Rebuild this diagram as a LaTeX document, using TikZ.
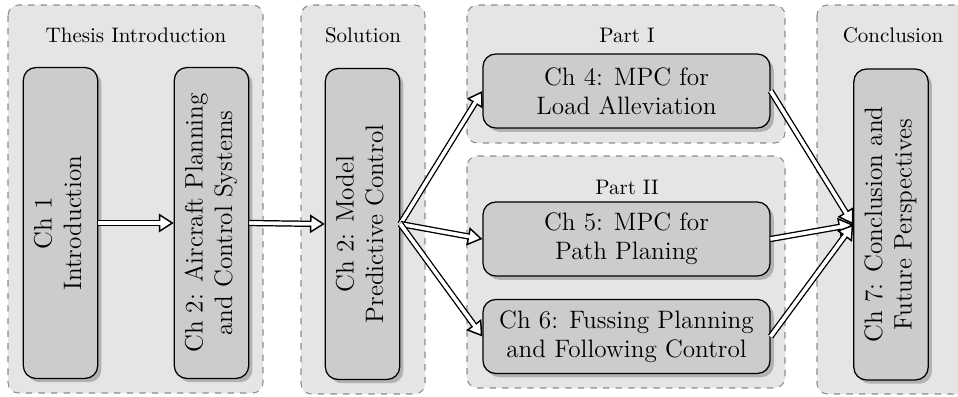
\documentclass[tikz,border=0pt]{standalone}
\usepackage{graphicx}
\usetikzlibrary{arrows.meta,shadows}

\tikzset{
  group/.style={draw=black!45, dashed, fill=black!10, rounded corners=5pt, line width=0.5pt},
  grouptitle/.style={font=\normalsize, inner sep=0pt},
  chap/.style={draw=black, fill=black!20, rounded corners=6pt, line width=0.6pt,
    align=center, font=\large, inner sep=2pt,
    drop shadow={shadow xshift=1.8pt, shadow yshift=-1.8pt, fill=black!30, opacity=1}},
  hchap/.style={chap, minimum width=136.6pt, minimum height=35.2pt},
  vchap/.style={chap, minimum width=35.4pt, minimum height=148pt},
  % hollow arrow: outlined head, double-line shaft, white inside
  fathead/.style={line width=0.7pt, draw=black,
    -{Triangle[fill=white, length=7pt, width=8.8pt]}},
  fatshaft/.style={double=white, double distance=1.6pt, line width=0.7pt,
    shorten >=6.8pt},
  fatcore/.style={draw=white, line width=1.6pt, shorten >=5.4pt},
}
\newcommand{\uptext}[1]{\rotatebox{90}{\begin{tabular}{@{}c@{}}#1\end{tabular}}}
\newcommand{\fatarrow}[2]{%
  \draw[fathead] (#1) -- (#2);
  \draw[fatshaft] (#1) -- (#2);
  \draw[fatcore] (#1) -- (#2);}

\begin{document}
\begin{tikzpicture}[x=0.476pt, y=-0.476pt]
  \useasboundingbox (0,0) rectangle (958,396);
  \clip (0,0) rectangle (958,396);

  % section panels
  \draw[group] (8,5) rectangle (263,393);
  \draw[group] (301,5) rectangle (425,394);
  \draw[group] (467,5) rectangle (785,143);
  \draw[group] (467,156) rectangle (785,388);
  \draw[group] (817,5) rectangle (969,394);

  % panel titles
  \node[grouptitle] (tIntro) at (136,35) {Thesis Introduction};
  \node[grouptitle] (tSol)   at (363,35) {Solution};
  \node[grouptitle] (tP1)    at (627,35) {Part I};
  \node[grouptitle] (tP2)    at (627,187) {Part II};
  \node[grouptitle] (tConc)  at (893,35) {Conclusion};

  % chapters
  \node[vchap] (ch1) at (60.5,223) {\uptext{Ch 1\\Introduction}};
  \node[vchap] (ch2) at (211.5,223) {\uptext{Ch 2: Aircraft Planning\\and Control Systems}};
  \node[vchap] (mpc) at (362.5,224) {\uptext{Ch 2: Model\\Predictive Control}};
  \node[hchap] (ch4) at (626.5,91) {Ch 4: MPC for\\Load Alleviation};
  \node[hchap] (ch5) at (626.5,239) {Ch 5: MPC for\\Path Planing};
  \node[hchap] (ch6) at (626.5,336.5) {Ch 6: Fussing Planning\\and Following Control};
  \node[vchap] (ch7) at (891,224.5) {\uptext{Ch 7: Conclusion and\\Future Perspectives}};

  % reading order
  \fatarrow{ch1.east}{ch2.west}
  \fatarrow{ch2.east}{mpc.west}
  \fatarrow{mpc.east}{ch4.west}
  \fatarrow{mpc.east}{ch5.west}
  \fatarrow{mpc.east}{ch6.west}
  \fatarrow{ch4.east}{ch7.west}
  \fatarrow{ch5.east}{ch7.west}
  \fatarrow{ch6.east}{ch7.west}
\end{tikzpicture}
\end{document}
